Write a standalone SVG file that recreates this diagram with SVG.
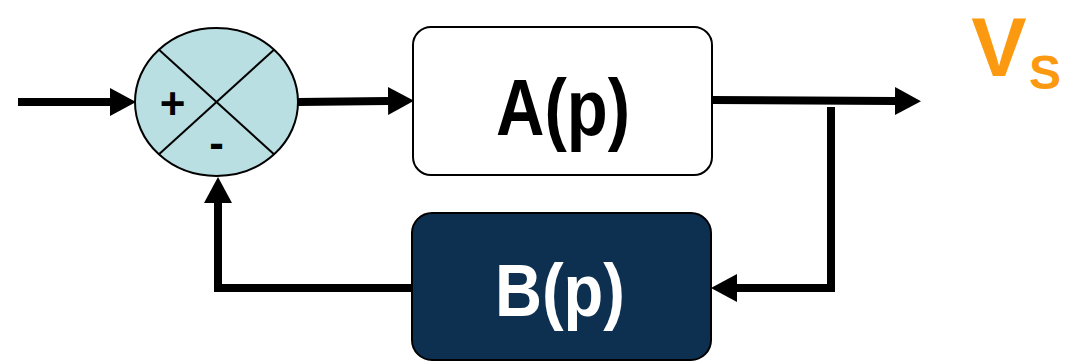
<svg xmlns="http://www.w3.org/2000/svg" width="1073" height="362" viewBox="0 0 1073 362">
<defs>
<style>
.wire{fill:none;stroke:#000;stroke-width:8;stroke-linejoin:miter}
.lbl{font-family:"Liberation Sans",Arial,sans-serif;font-weight:bold;text-anchor:middle}
</style>
<marker id="ah" markerUnits="userSpaceOnUse" markerWidth="27" markerHeight="28" refX="0" refY="14" orient="auto" viewBox="0 0 27 28">
<path d="M0,0 L26,14 L0,28 z" fill="#000"/>
</marker>
</defs>
<g id="connectors">
<line class="wire" x1="18" y1="102" x2="110" y2="102" marker-end="url(#ah)"/>
<line class="wire" x1="298" y1="102" x2="388" y2="101" marker-end="url(#ah)"/>
<line class="wire" x1="712" y1="100" x2="895" y2="101" marker-end="url(#ah)"/>
<polyline class="wire" points="831,107 831,288 737,288" marker-end="url(#ah)"/>
<polyline class="wire" points="412,288 218,288 218,203" marker-end="url(#ah)"/>
</g>
<g id="sum">
<ellipse cx="216.5" cy="102" rx="81.5" ry="74" fill="#b9dfe2" stroke="#000" stroke-width="2"/>
<line x1="159" y1="49.7" x2="274" y2="154.3" stroke="#000" stroke-width="2"/>
<line x1="274" y1="49.7" x2="159" y2="154.3" stroke="#000" stroke-width="2"/>
<text class="lbl" x="172.5" y="119" font-size="44">+</text>
<text class="lbl" x="216.5" y="158" font-size="44">-</text>
</g>
<g id="A">
<rect x="413" y="27" width="299" height="148" rx="18" fill="#fff" stroke="#000" stroke-width="2"/>
<text class="lbl" x="563" y="135" font-size="80" textLength="134" lengthAdjust="spacingAndGlyphs">A(p)</text>
</g>
<g id="B">
<rect x="412" y="213" width="299" height="147" rx="20" fill="#0d3050" stroke="#000" stroke-width="2"/>
<text class="lbl" x="560" y="316" font-size="74" fill="#fff" textLength="130" lengthAdjust="spacingAndGlyphs">B(p)</text>
</g>
<g id="Vs">
<text class="lbl" x="999" y="75.5" font-size="83" fill="#fb9a10">V</text>
<text class="lbl" x="1045" y="89" font-size="48" fill="#fb9a10">S</text>
</g>
</svg>
